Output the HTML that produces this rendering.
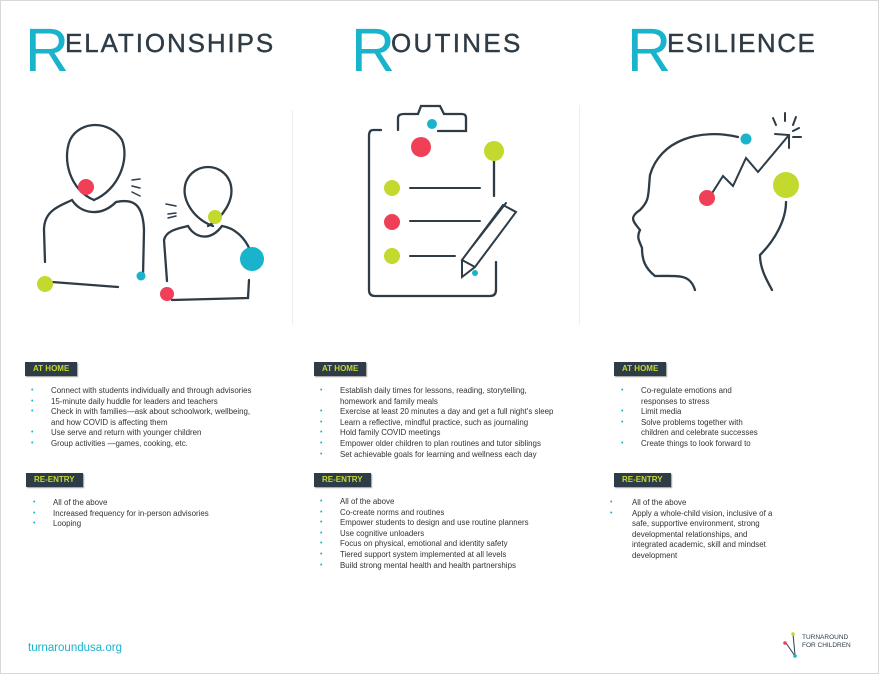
<!DOCTYPE html>
<html><head><meta charset="utf-8"><style>
html,body{margin:0;padding:0;background:#fff}
body{width:879px;height:674px;overflow:hidden;position:relative;font-family:"Liberation Sans",sans-serif}
.frame{position:absolute;left:0;top:0;width:877px;height:672px;border:1px solid #d8d8d8}
.lab{position:absolute;background:#2e3c47;color:#c4d92e;font-size:8px;font-weight:bold;height:14px;line-height:14px;padding:0 8px;box-shadow:1px 1px 1px #999}
ul{position:absolute;margin:0;padding:0;list-style:none;font-size:7.9px;color:#333;line-height:10.6px;white-space:nowrap}
li{position:relative;padding-left:20px}
li:before{content:"•";color:#19b3cc;position:absolute;left:0;font-size:7px}
.R{position:absolute;top:20px;color:#19b3cc;font-size:61px;line-height:61px}
.w{position:absolute;top:30px;color:#2e3c47;font-size:26px;line-height:26px;white-space:nowrap;-webkit-text-stroke:0.4px #2e3c47}
</style></head><body>
<div class="frame"></div>
<div class="R" style="left:25px">R</div><div class="w" style="left:65px;letter-spacing:1.9px">ELATIONSHIPS</div>
<div class="R" style="left:351px">R</div><div class="w" style="left:391px;letter-spacing:2.3px">OUTINES</div>
<div class="R" style="left:627px">R</div><div class="w" style="left:667px;letter-spacing:1.5px">ESILIENCE</div>
<div style="position:absolute;left:292px;top:110px;width:1px;height:215px;background:#eee"></div>
<div style="position:absolute;left:579px;top:105px;width:1px;height:220px;background:#eee"></div>
<svg width="879" height="674" style="position:absolute;left:0;top:0" fill="none" stroke="#2e3c47" stroke-width="2.3" stroke-linecap="round">
<path d="M94 200 C70 190 62 160 70 140 C80 120 110 120 122 140 C130 160 118 190 94 200"/>
<path d="M132 180l8 -1M132 186l8 2M132 192l8 4" stroke-width="1.5"/>
<path d="M72 200 C80 213 100 218 116 202 C135 198 143 206 144 230 L143 276M45 262 L44 230 C44 210 60 206 72 200M52 282 L118 287"/>
<path d="M213 226 C195 220 180 200 186 182 C194 162 222 162 230 182 C236 200 222 218 208 226" />
<path d="M166 204l10 2M168 214l8 -1M168 218l8 -2" stroke-width="1.5"/>
<path d="M167 281 L164 240 C166 230 180 228 188 226 C195 238 210 242 222 226 C235 228 245 238 250 250M249 280 L248 298 L172 300"/>
<path d="M381 130 L373 130 Q369 130 369 136 L369 290 Q369 296 375 296 L490 296 Q496 296 496 290 L496 262M398 130 L398 118 Q398 114 404 114 L418 114 L421 106 L440 106 L444 114 L462 114 Q466 114 466 118 L466 131 L438 131M494 153 L494 196"/>
<path d="M410 188h70M410 221h70M410 256h45" stroke-width="2"/>
<path d="M462 260 L503 205 L516 212 L475 267 Z M462 260 L462 277 L475 267 M471 248 L506 203" stroke-width="2"/>
<path d="M738 137 C700 128 660 140 650 175 C648 195 650 200 640 210 C628 218 634 222 640 230 C636 238 640 242 642 248 C642 260 645 268 655 276 C680 276 690 274 695 290M786 202 C786 220 775 240 760 255 C760 270 768 282 772 290"/>
<path d="M709 198 L723 176 L733 186 L746 158 L758 172 L789 135 M775 134 L789 135 L789 148 M773 118l3 7M785 113l0 8M796 117l-3 8M799 128l-6 3M801 137l-8 0" stroke-width="2"/>
<g stroke="none">
<circle cx="86" cy="187" r="8" fill="#ef4058"/><circle cx="45" cy="284" r="8" fill="#c4d92e"/><circle cx="141" cy="276" r="4.5" fill="#19b3cc"/>
<circle cx="215" cy="217" r="7" fill="#c4d92e"/><circle cx="252" cy="259" r="12" fill="#19b3cc"/><circle cx="167" cy="294" r="7" fill="#ef4058"/>
<circle cx="432" cy="124" r="5" fill="#19b3cc"/><circle cx="421" cy="147" r="10" fill="#ef4058"/><circle cx="494" cy="151" r="10" fill="#c4d92e"/>
<circle cx="392" cy="188" r="8" fill="#c4d92e"/><circle cx="392" cy="222" r="8" fill="#ef4058"/><circle cx="392" cy="256" r="8" fill="#c4d92e"/><circle cx="475" cy="273" r="3" fill="#19b3cc"/>
<circle cx="746" cy="139" r="5.5" fill="#19b3cc"/><circle cx="707" cy="198" r="8" fill="#ef4058"/><circle cx="786" cy="185" r="13" fill="#c4d92e"/>
</g>
<path d="M793 634 L795 655 M786 643 L795 656" stroke-width="1"/>
<circle cx="793" cy="634" r="1.8" fill="#c4d92e" stroke="none"/><circle cx="785" cy="643" r="1.8" fill="#ef4058" stroke="none"/><circle cx="795" cy="656" r="1.8" fill="#19b3cc" stroke="none"/>
</svg>
<div class="lab" style="left:25px;top:362px">AT HOME</div>
<ul style="left:31px;top:386px">
<li>Connect with students individually and through advisories</li>
<li>15-minute daily huddle for leaders and teachers</li>
<li>Check in with families—ask about schoolwork, wellbeing,<br>and how COVID is affecting them</li>
<li>Use serve and return with younger children</li>
<li>Group activities —games, cooking, etc.</li></ul>
<div class="lab" style="left:26px;top:473px">RE-ENTRY</div>
<ul style="left:33px;top:498px"><li>All of the above</li><li>Increased frequency for in-person advisories</li><li>Looping</li></ul>

<div class="lab" style="left:314px;top:362px">AT HOME</div>
<ul style="left:320px;top:386px">
<li>Establish daily times for lessons, reading, storytelling,<br>homework and family meals</li>
<li>Exercise at least 20 minutes a day and get a full night's sleep</li>
<li>Learn a reflective, mindful practice, such as journaling</li>
<li>Hold family COVID meetings</li>
<li>Empower older children to plan routines and tutor siblings</li>
<li>Set achievable goals for learning and wellness each day</li></ul>
<div class="lab" style="left:314px;top:473px">RE-ENTRY</div>
<ul style="left:320px;top:497px">
<li>All of the above</li><li>Co-create norms and routines</li><li>Empower students to design and use routine planners</li><li>Use cognitive unloaders</li><li>Focus on physical, emotional and identity safety</li><li>Tiered support system implemented at all levels</li><li>Build strong mental health and health partnerships</li></ul>

<div class="lab" style="left:614px;top:362px">AT HOME</div>
<ul style="left:621px;top:386px">
<li>Co-regulate emotions and<br>responses to stress</li><li>Limit media</li><li>Solve problems together with<br>children and celebrate successes</li><li>Create things to look forward to</li></ul>
<div class="lab" style="left:614px;top:473px">RE-ENTRY</div>
<ul style="left:610px;top:498px">
<li style="padding-left:22px">All of the above</li><li style="padding-left:22px">Apply a whole-child vision, inclusive of a<br>safe, supportive environment, strong<br>developmental relationships, and<br>integrated academic, skill and mindset<br>development</li></ul>

<div style="position:absolute;left:28px;top:642px;color:#19b3cc;font-size:11.5px">turnaroundusa.org</div>
<div style="position:absolute;left:802px;top:634px;color:#2e3c47;font-size:6.5px;line-height:8px">TURNAROUND<br>FOR CHILDREN</div>
</body></html>
